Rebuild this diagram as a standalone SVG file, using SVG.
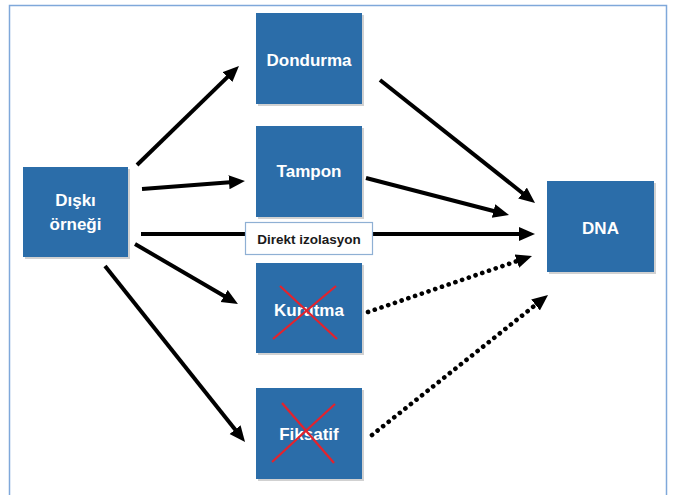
<svg xmlns="http://www.w3.org/2000/svg" width="673" height="495" viewBox="0 0 673 495">
<style>
.box{fill:#2B6DA9;}
.shadow{fill:#000;opacity:0.18;}
.lbl{font-family:"Liberation Sans",Arial,sans-serif;font-weight:bold;font-size:17px;fill:#FFFFFF;text-anchor:middle;}
.dlbl{font-family:"Liberation Sans",Arial,sans-serif;font-weight:bold;font-size:13.5px;fill:#1A1A1A;text-anchor:middle;}
.arr{stroke:#000;stroke-width:4;fill:none;marker-end:url(#ah);}
.dot{stroke:#000;stroke-width:4.6;fill:none;stroke-dasharray:0.1 7;stroke-linecap:round;marker-end:url(#ah);}
.x{stroke:#E3232D;stroke-width:2.2;fill:none;}
</style>
<defs>
<marker id="ah" markerUnits="userSpaceOnUse" markerWidth="20" markerHeight="20" refX="1" refY="7" orient="auto">
<path d="M0,0 L16,7 L0,14 z" fill="#000"/>
</marker>
</defs>
<rect x="0" y="0" width="673" height="495" fill="#FFFFFF"/>
<rect x="9.5" y="5.5" width="657" height="500" fill="none" stroke="#7FA8DA" stroke-width="1.5"/>
<g id="connectors">
<line class="arr" x1="137" y1="165" x2="228.2" y2="76.4"/>
<line class="arr" x1="142" y1="189" x2="230" y2="182.2"/>
<line class="arr" x1="141" y1="234" x2="520" y2="234"/>
<line class="arr" x1="135" y1="244" x2="225" y2="296.5"/>
<line class="arr" x1="105" y1="266" x2="235.7" y2="430.3"/>
<line class="arr" x1="380" y1="80" x2="523.3" y2="193.7"/>
<line class="arr" x1="366" y1="178" x2="494.5" y2="211.2"/>
<line class="dot" x1="368" y1="312" x2="517.8" y2="260.8"/>
<line class="dot" x1="372" y1="435" x2="536.3" y2="304.3"/>
</g>
<g id="direkt">
<rect x="245.5" y="222.5" width="127" height="32" fill="#FFFFFF" stroke="#8FB0D4" stroke-width="1.2"/>
<text class="dlbl" x="309" y="244">Direkt izolasyon</text>
</g>
<g id="diski">
<rect class="shadow" x="25" y="169" width="105" height="90"/>
<rect class="box" x="23" y="167" width="105" height="90"/>
<text class="lbl" x="75.5" y="206">Dışkı</text>
<text class="lbl" x="75.5" y="230">örneği</text>
</g>
<g id="dondurma">
<rect class="shadow" x="258" y="15" width="106" height="91"/>
<rect class="box" x="256" y="13" width="106" height="91"/>
<text class="lbl" x="309" y="66">Dondurma</text>
</g>
<g id="tampon">
<rect class="shadow" x="258" y="128" width="106" height="91"/>
<rect class="box" x="256" y="126" width="106" height="91"/>
<text class="lbl" x="309" y="177">Tampon</text>
</g>
<g id="kurutma">
<rect class="shadow" x="258" y="265" width="106" height="90"/>
<rect class="box" x="256" y="263" width="106" height="90"/>
<text class="lbl" x="309" y="316">Kurutma</text>
<line class="x" x1="280" y1="286" x2="337" y2="339"/>
<line class="x" x1="336" y1="286" x2="273" y2="339"/>
</g>
<g id="fiksatif">
<rect class="shadow" x="258" y="390" width="106" height="91"/>
<rect class="box" x="256" y="388" width="106" height="91"/>
<text class="lbl" x="309" y="440">Fiksatif</text>
<line class="x" x1="282" y1="403" x2="334" y2="463"/>
<line class="x" x1="335" y1="404" x2="272" y2="462"/>
</g>
<g id="dna">
<rect class="shadow" x="549" y="183" width="107" height="91"/>
<rect class="box" x="547" y="181" width="107" height="91"/>
<text class="lbl" x="600.5" y="234">DNA</text>
</g>
</svg>
